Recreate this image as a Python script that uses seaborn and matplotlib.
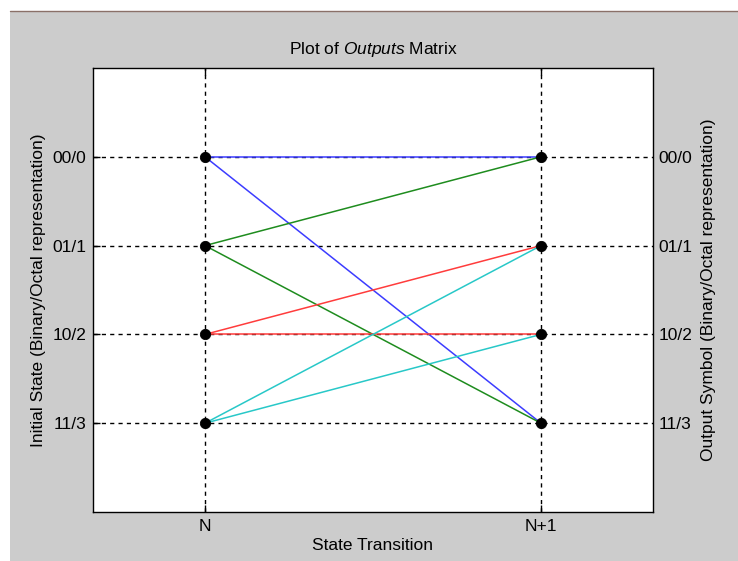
import seaborn as sns
import pandas as pd
import matplotlib.pyplot as plt
from matplotlib.patches import Rectangle

# trellis data: each initial state goes to two next states
state_labels = ["00/0", "01/1", "10/2", "11/3"]
states = [0, 1, 2, 3]
next_a = [0, 0, 1, 1]
next_b = [3, 3, 2, 2]
line_colors = ["#3c3cff", "#1e8c1e", "#ff3c3c", "#28c8c8"]
stage_labels = ["N", "N+1"]

rows = []
seg = 0
for s, a, b in zip(states, next_a, next_b):
    for t in (a, b):
        rows.append({"seg": seg, "stage": 1, "state": s, "src": s})
        rows.append({"seg": seg, "stage": 2, "state": t, "src": s})
        seg += 1
df = pd.DataFrame(rows)
nodes = pd.DataFrame({"stage": [1] * 4 + [2] * 4, "state": states + states})

sns.set_style("white")
plt.rcParams["font.family"] = ["Liberation Sans", "DejaVu Sans"]
plt.rcParams["mathtext.fontset"] = "custom"
plt.rcParams["mathtext.it"] = "Liberation Sans:italic"
plt.rcParams["mathtext.rm"] = "Liberation Sans"
plt.rcParams["text.color"] = "black"
plt.rcParams["axes.labelcolor"] = "black"
plt.rcParams["xtick.color"] = "black"
plt.rcParams["ytick.color"] = "black"

fs = 12.5

fig = plt.figure(figsize=(7.38, 5.61), dpi=100)
fig.patch.set_facecolor("white")
fig.patches.append(Rectangle((10 / 738, 0), 1, 1 - 11 / 561, transform=fig.transFigure,
                             facecolor="#cccccc", edgecolor="none", zorder=-10))
fig.lines.append(plt.Line2D([10 / 738, 1], [1 - 10.5 / 561] * 2, transform=fig.transFigure,
                            color="#8a7068", lw=1))

ax = fig.add_axes([93 / 738, 1 - 512 / 561, 560 / 738, 444 / 561])
ax.set_facecolor("white")

for x in (1, 2):
    ax.axvline(x, color="black", ls=(0, (3, 3)), lw=1, zorder=1)
for y in states:
    ax.axhline(y, color="black", ls=(0, (3, 3)), lw=1, zorder=1)

sns.lineplot(data=df, x="stage", y="state", hue="src", units="seg", estimator=None,
             palette=line_colors, lw=1.1, legend=False, ax=ax, zorder=2)
sns.scatterplot(data=nodes, x="stage", y="state", color="black", s=55,
                edgecolor="black", ax=ax, zorder=3)

ax.set_xlim(2 / 3, 7 / 3)
ax.set_ylim(4, -1)
ax.set_xticks([1, 2], stage_labels)
ax.set_yticks(states, state_labels)
ax.tick_params(direction="in", length=5, width=1, labelsize=fs, pad=5,
               left=True, bottom=True, top=True, right=True)
ax.set_xlabel("State Transition", fontsize=fs, labelpad=3)
ax.set_ylabel("Initial State (Binary/Octal representation)", fontsize=fs, labelpad=4)
ax.set_title(r"Plot of $\it{Outputs}$ Matrix", fontsize=fs, pad=10)
for sp in ax.spines.values():
    sp.set_color("black")
    sp.set_linewidth(1)

ax2 = ax.twinx()
ax2.set_ylim(4, -1)
ax2.set_yticks(states, state_labels)
ax2.tick_params(direction="in", length=0, labelsize=fs, pad=4)
ax2.set_ylabel("Output Symbol (Binary/Octal representation)", fontsize=fs, labelpad=6)
for sp in ax2.spines.values():
    sp.set_visible(False)

fig.savefig("out.png", dpi=100)
